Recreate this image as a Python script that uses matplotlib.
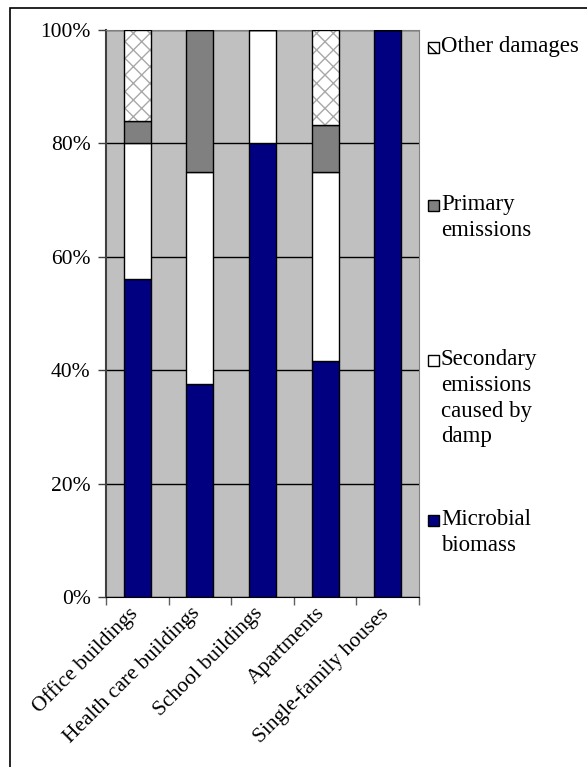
import matplotlib.pyplot as plt
import matplotlib.patches as mpatches
import numpy as np

plt.rcParams['font.family'] = ['Liberation Serif', 'DejaVu Serif']

categories = ["Office buildings", "Health care buildings", "School buildings",
              "Apartments", "Single-family houses"]
microbial = [56.0, 37.5, 80.0, 41.7, 100.0]
secondary = [24.0, 37.5, 20.0, 33.3, 0.0]
primary = [4.0, 25.0, 0.0, 8.3, 0.0]
other = [16.0, 0.0, 0.0, 16.7, 0.0]

legend_labels = ["Other damages", "Primary\nemissions",
                 "Secondary\nemissions\ncaused by\ndamp", "Microbial\nbiomass"]

fig = plt.figure(figsize=(5.87, 7.67), dpi=100)
ax = fig.add_axes([106/587, 1-597/767, 313/587, 567/767])
ax.set_facecolor('#c0c0c0')

x = np.arange(len(categories))
w = 0.43
b1 = np.array(microbial)
b2 = b1 + np.array(secondary)
b3 = b2 + np.array(primary)

ax.bar(x, microbial, w, color='#000080', edgecolor='black', lw=1, zorder=3)
ax.bar(x, secondary, w, bottom=b1, color='white', edgecolor='black', lw=1, zorder=3)
ax.bar(x, primary, w, bottom=b2, color='#808080', edgecolor='black', lw=1, zorder=3)
# hatched part: gray hatch first, black outline on top
ax.bar(x, other, w, bottom=b3, color='white', edgecolor='#a8a8a8', hatch='xx', lw=0, zorder=3)
ax.bar(x, other, w, bottom=b3, fill=False, edgecolor='black', lw=1, zorder=4)

ax.set_xlim(-0.5, len(categories) - 0.5)
ax.set_ylim(0, 100)
ax.set_yticks(np.arange(0, 101, 20))
ax.set_yticklabels([f"{v}%" for v in range(0, 101, 20)], fontsize=15.5)
ax.yaxis.grid(True, color='black', lw=1)
ax.set_axisbelow(True)
ax.tick_params(axis='y', length=6, width=1, color='#404040', pad=5)

ax.set_xticks(np.arange(-0.5, len(categories), 1.0))
ax.set_xticklabels([])
ax.tick_params(axis='x', length=6, width=1, color='#606060')
for i, name in enumerate(categories):
    ax.text(i - 0.15, -1.2, name, rotation=45, ha='right', va='top',
            rotation_mode='anchor', fontsize=15.5)

for s in ['top', 'right']:
    ax.spines[s].set_color('#808080')
ax.spines['left'].set_color('#404040')
ax.spines['left'].set_linewidth(1.5)
ax.spines['bottom'].set_color('black')

# legend entries
leg_colors = ['white', '#808080', 'white', '#000080']
leg_y = [47, 205, 360, 520]
for lab, c, yy, k in zip(legend_labels, leg_colors, leg_y, range(4)):
    r = mpatches.Rectangle((428/587, 1-(yy+6)/767), 11/587, 11/767,
                           transform=fig.transFigure, facecolor=c,
                           edgecolor='black', lw=1, hatch='\\\\' if k == 0 else None)
    fig.patches.append(r)
    fig.text(441/587, 1-(yy-11)/767, lab, fontsize=16.5, va='top', ha='left',
             linespacing=1.3)

# outer frame
frame = mpatches.Rectangle((10/587, -0.05), 1.1, 1-8/767+0.05,
                           transform=fig.transFigure, fill=False,
                           edgecolor='black', lw=1.2)
fig.patches.append(frame)

fig.savefig('out.png', dpi=100)
